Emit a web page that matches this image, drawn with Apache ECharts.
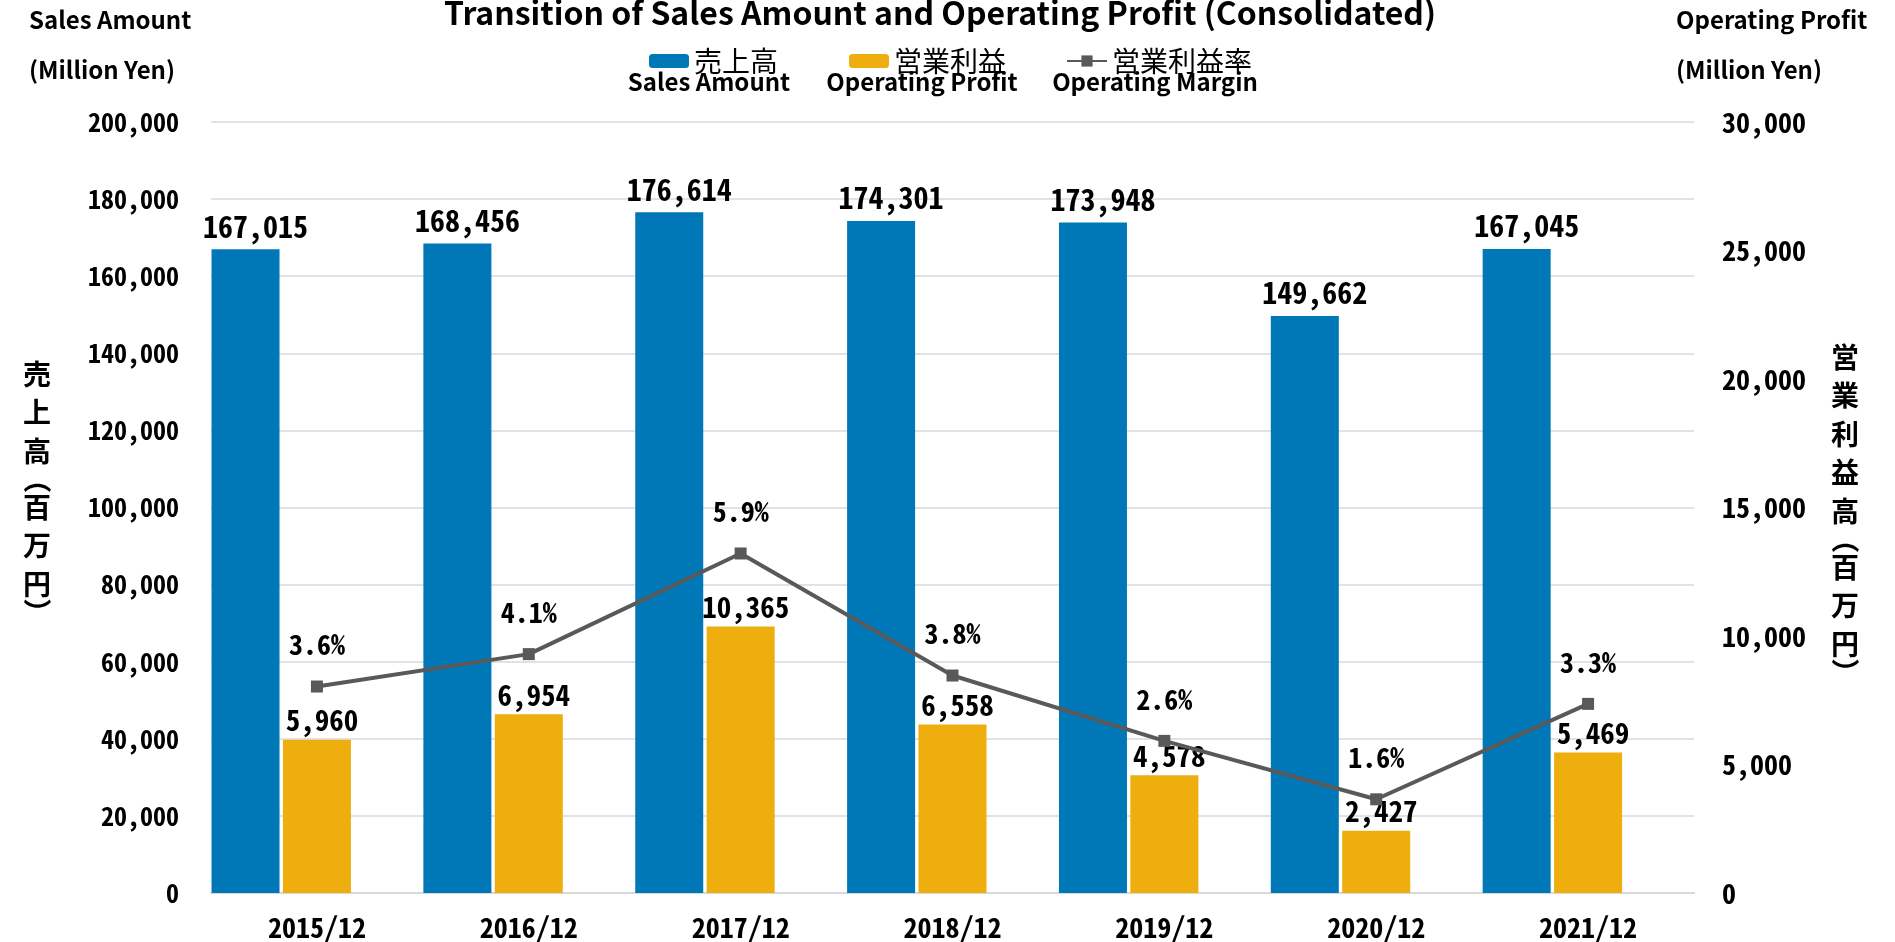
<!DOCTYPE html>
<html>
<head>
<meta charset="utf-8">
<title>Transition of Sales Amount and Operating Profit</title>
<script src="https://cdn.jsdelivr.net/npm/echarts@6/dist/echarts.min.js"></script>
<style>
  html, body { margin: 0; padding: 0; background: #fff; }
  #chart { width: 1895px; height: 942px; }
</style>
</head>
<body>
<div id="chart"></div>
<script>
// data
const years = ["2015/12", "2016/12", "2017/12", "2018/12", "2019/12", "2020/12", "2021/12"];
const salesAmount = [167015, 168456, 176614, 174301, 173948, 149662, 167045];
const operatingProfit = [5960, 6954, 10365, 6558, 4578, 2427, 5469];
const operatingMargin = [3.57, 4.13, 5.87, 3.76, 2.63, 1.62, 3.27]; // %
const salesAxis = { min: 0, max: 200000, interval: 20000 };
const profitAxis = { min: 0, max: 30000, interval: 5000 };
const marginAxis = { min: 0, max: 13.33 };

const BLUE = "#0078B8";
const ORANGE = "#EDAE0E";
const GRAY = "#595959";
const NUM_FONT = "'Noto Sans Mono CJK JP', 'DejaVu Sans Mono', monospace";
const TXT_FONT = "'Noto Sans CJK JP', 'Noto Sans', sans-serif";

const fmt = (v) => Number(v).toLocaleString("en-US");

// upright vertical axis title, one text element per character,
// brackets are drawn as rotated half-height glyphs like the original
function verticalTitle(str, cx, top) {
  const els = [];
  let y = top;
  for (const ch of str) {
    const paren = ch === "（" || ch === "）";
    const h = paren ? 17.5 : 38.5;
    els.push({
      type: "text",
      x: cx,
      y: y + h / 2,
      rotation: paren ? -Math.PI / 2 : 0,
      style: {
        text: ch,
        font: "bold 28px " + TXT_FONT,
        fill: "#000",
        align: "center",
        verticalAlign: "middle"
      }
    });
    y += h;
  }
  return els;
}

function label(text, x, y, size, align) {
  return {
    type: "text", x: x, y: y,
    style: { text: text, font: "bold " + size + "px " + TXT_FONT, fill: "#000", align: align || "left", verticalAlign: "middle" }
  };
}

const chart = echarts.init(document.getElementById("chart"));

const option = {
  backgroundColor: "#fff",
  animation: false,
  grid: { left: 211, right: 201, top: 122, bottom: 49 },
  legend: [
    { data: ["売上高"], left: 644, top: 42 },
    { data: ["営業利益"], left: 844, top: 42 },
    { data: ["営業利益率"], left: 1061, top: 42 }
  ].map((l) => Object.assign(l, {
    selectedMode: false,
    itemWidth: 40,
    itemHeight: 14,
    itemGap: 0,
    textStyle: { fontSize: 28, fontFamily: TXT_FONT, color: "#000" }
  })),
  graphic: [
    label("Transition of Sales Amount and Operating Profit (Consolidated)", 940, 13, 32, "center"),
    label("Sales Amount", 29, 20, 24),
    label("(Million Yen)", 29, 70, 24),
    label("Operating Profit", 1676, 20, 24),
    label("(Million Yen)", 1676, 70, 24),
    label("Sales Amount", 709, 82, 24, "center"),
    label("Operating Profit", 922, 82, 24, "center"),
    label("Operating Margin", 1155, 82, 24, "center")
  ]
    .concat(verticalTitle("売上高（百万円）", 37, 355))
    .concat(verticalTitle("営業利益高（百万円）", 1845, 338)),
  xAxis: {
    type: "category",
    data: years,
    axisTick: { show: false },
    axisLine: { lineStyle: { color: "#D9D9D9", width: 2 } },
    axisLabel: { fontSize: 28, fontFamily: NUM_FONT, fontWeight: "bold", color: "#000", margin: 20 }
  },
  yAxis: [
    {
      type: "value",
      min: salesAxis.min, max: salesAxis.max, interval: salesAxis.interval,
      axisLine: { show: false },
      axisTick: { show: false },
      axisLabel: { fontSize: 26, fontFamily: NUM_FONT, fontWeight: "bold", color: "#000", margin: 32, formatter: fmt },
      splitLine: { lineStyle: { color: "#D9D9D9", width: 1.5 } }
    },
    {
      type: "value",
      position: "right",
      min: profitAxis.min, max: profitAxis.max, interval: profitAxis.interval,
      axisLine: { show: false },
      axisTick: { show: false },
      axisLabel: { fontSize: 28, fontFamily: NUM_FONT, fontWeight: "bold", color: "#000", margin: 28, formatter: fmt },
      splitLine: { show: false }
    },
    {
      type: "value",
      show: false,
      min: marginAxis.min, max: marginAxis.max,
      splitLine: { show: false }
    }
  ],
  series: [
    {
      name: "売上高",
      type: "bar",
      yAxisIndex: 0,
      barWidth: 68,
      barGap: "5%",
      itemStyle: { color: BLUE },
      label: { show: true, position: "top", distance: 8, offset: [10, 0], fontSize: 30, fontFamily: NUM_FONT, fontWeight: "bold", color: "#000", formatter: (p) => fmt(p.value) },
      data: salesAmount
    },
    {
      name: "営業利益",
      type: "bar",
      yAxisIndex: 1,
      barWidth: 68,
      barGap: "5%",
      itemStyle: { color: ORANGE },
      label: { show: true, position: "top", distance: 5, offset: [5, 0], fontSize: 29, fontFamily: NUM_FONT, fontWeight: "bold", color: "#000", formatter: (p) => fmt(p.value) },
      data: operatingProfit
    },
    {
      // empty third slot, keeps the pair of bars on the left of each category like the original
      name: "spacer",
      type: "bar",
      yAxisIndex: 0,
      barWidth: 68,
      barGap: "5%",
      data: []
    },
    {
      name: "営業利益率",
      type: "line",
      yAxisIndex: 2,
      symbol: "rect",
      symbolSize: 12,
      itemStyle: { color: GRAY },
      lineStyle: { color: GRAY, width: 4 },
      label: { show: true, position: "top", distance: 22, fontSize: 28, fontFamily: NUM_FONT, fontWeight: "bold", color: "#000", formatter: (p) => p.value.toFixed(1) + "%" },
      data: operatingMargin
    }
  ]
};

chart.setOption(option);
</script>
</body>
</html>
